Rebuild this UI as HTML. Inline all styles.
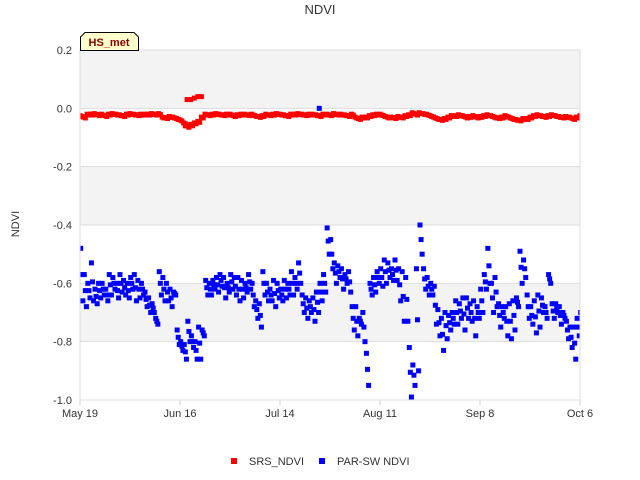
<!DOCTYPE html>
<html><head><meta charset="utf-8"><style>
body{margin:0;background:#fff;}
svg{display:block;font-family:"Liberation Sans","DejaVu Sans",sans-serif;}
</style></head><body>
<svg id="chart" width="640" height="480">
<defs><clipPath id="plotclip"><rect x="80" y="50" width="500" height="350"/></clipPath></defs>
<text x="320" y="14" text-anchor="middle" font-size="13" fill="#333">NDVI</text>
<text transform="translate(19,224) rotate(-90)" text-anchor="middle" font-size="11" fill="#333">NDVI</text>
<g id="bands"></g>
<g id="grid"></g>
<g id="yticks"></g>
<g id="xticks"></g>
<g id="srs" clip-path="url(#plotclip)"></g>
<g id="par" clip-path="url(#plotclip)"></g>
<rect x="80" y="50" width="500" height="350" fill="none" stroke="#ddd"/>
<g>
<path d="M80.5,50.5 L80.5,37 L85,32.5 L134,32.5 L138.5,37 L138.5,50.5 Z" fill="#ffffcc" stroke="#000" stroke-width="1"/>
<text x="109" y="46" text-anchor="middle" font-size="11" font-weight="bold" fill="#8b0000">HS_met</text>
</g>
<g>
<rect x="231" y="458" width="6" height="6" fill="#ff0000"/>
<text x="249" y="465" font-size="11" fill="#333">SRS_NDVI</text>
<rect x="319" y="458" width="6" height="6" fill="#0000ff"/>
<text x="337" y="465" font-size="11" fill="#333">PAR-SW NDVI</text>
</g>
</svg>
<script>
const yTicks=[0.2,0.0,-0.2,-0.4,-0.6,-0.8,-1.0];
const yTickLabels=["0.2","0.0","-0.2","-0.4","-0.6","-0.8","-1.0"];
const xTickDays=[0,28,56,84,112,140];
const xTickLabels=["May 19","Jun 16","Jul 14","Aug 11","Sep 8","Oct 6"];
const parHi=[-0.48,-0.57,-0.60,-0.53,-0.62,-0.60,
-0.60,-0.62,-0.57,-0.58,-0.60,-0.57,-0.59,-0.60,
-0.58,-0.57,-0.59,-0.60,-0.63,-0.65,-0.67,-0.72,
-0.56,-0.58,-0.60,-0.62,-0.63,
-0.76,-0.80,-0.81,-0.73,-0.78,-0.80,-0.75,-0.76,
-0.59,-0.60,-0.59,-0.58,-0.57,-0.58,-0.60,-0.57,-0.58,-0.58,-0.59,-0.60,-0.57,
-0.60,-0.66,-0.67,-0.56,-0.60,
-0.62,-0.59,-0.60,-0.62,-0.59,-0.60,-0.56,-0.58,-0.53,
-0.64,-0.65,-0.66,-0.65,-0.63,
-0.60,-0.57,-0.41,-0.45,
-0.53,-0.54,-0.55,-0.57,-0.56,
-0.68,-0.68,-0.72,-0.70,-0.84,
-0.60,-0.58,-0.56,-0.55,-0.52,-0.53,-0.55,
-0.52,-0.55,-0.56,-0.58,
-0.82,-0.88,-0.55,-0.40,
-0.55,-0.58,-0.60,-0.61,
-0.69,-0.72,-0.70,-0.71,-0.70,
-0.66,-0.67,-0.65,-0.65,-0.67,-0.66,-0.68,-0.62,
-0.57,-0.48,-0.60,-0.58,
-0.67,-0.68,-0.68,-0.67,-0.66,-0.65,
-0.49,-0.52,
-0.64,-0.68,-0.66,-0.64,-0.65,-0.68,-0.57,
-0.67,-0.67,-0.68,-0.70,
-0.73,-0.75,-0.75,-0.72,
-0.70];
const parLo=[-0.66,-0.68,-0.65,-0.66,-0.67,-0.65,
-0.64,-0.66,-0.64,-0.62,-0.65,-0.63,-0.64,-0.65,
-0.62,-0.66,-0.65,-0.64,-0.68,-0.70,-0.70,-0.74,
-0.64,-0.66,-0.66,-0.68,-0.64,
-0.81,-0.83,-0.86,-0.80,-0.82,-0.86,-0.86,-0.78,
-0.64,-0.64,-0.62,-0.63,-0.61,-0.65,-0.63,-0.62,-0.64,-0.66,-0.65,-0.63,-0.62,
-0.68,-0.72,-0.75,-0.64,-0.66,
-0.66,-0.68,-0.65,-0.66,-0.65,-0.64,-0.64,-0.62,-0.60,
-0.70,-0.72,-0.70,-0.73,-0.70,
-0.66,-0.63,-0.50,-0.55,
-0.60,-0.58,-0.62,-0.60,-0.63,
-0.76,-0.78,-0.74,-0.80,-0.95,
-0.64,-0.63,-0.60,-0.61,-0.60,-0.58,-0.59,
-0.59,-0.66,-0.73,-0.73,
-0.99,-0.95,-0.90,-0.50,
-0.62,-0.64,-0.64,-0.74,
-0.78,-0.83,-0.79,-0.76,-0.74,
-0.74,-0.72,-0.76,-0.72,-0.73,-0.78,-0.72,-0.70,
-0.62,-0.60,-0.70,-0.68,
-0.75,-0.72,-0.78,-0.79,-0.76,-0.68,
-0.60,-0.58,
-0.72,-0.74,-0.77,-0.75,-0.70,-0.72,-0.60,
-0.72,-0.70,-0.74,-0.72,
-0.79,-0.82,-0.86,-0.78,
-0.73];
const parExtraDays=[67];
const parExtraValues=[0.0];
const srs=[-0.025,-0.03,-0.02,-0.02,-0.018,-0.022,-0.02,-0.025,-0.02,-0.018,-0.02,-0.022,-0.025,-0.02,-0.018,-0.02,-0.022,-0.02,-0.02,-0.02,-0.018,-0.02,-0.018,
-0.03,-0.032,-0.028,-0.03,
-0.035,-0.04,-0.05,-0.06,-0.055,-0.05,-0.045,-0.03,
-0.02,-0.022,-0.02,-0.018,-0.02,-0.022,-0.02,-0.02,-0.025,-0.022,
-0.02,-0.02,-0.022,-0.02,-0.025,-0.028,-0.025,-0.02,-0.022,-0.02,
-0.018,-0.02,-0.022,-0.025,-0.02,-0.02,-0.018,-0.02,-0.022,-0.02,
-0.02,-0.022,-0.025,-0.02,-0.02,-0.022,-0.018,-0.02,-0.02,-0.022,
-0.025,-0.02,-0.03,-0.035,-0.03,-0.03,-0.025,-0.022,-0.02,-0.02,
-0.025,-0.03,-0.03,-0.032,-0.028,-0.03,-0.025,-0.022,-0.015,-0.02,
-0.015,-0.018,-0.02,-0.025,-0.03,-0.035,-0.038,-0.035,-0.03,-0.025,
-0.025,-0.022,-0.025,-0.03,-0.028,-0.025,-0.03,-0.028,-0.025,-0.022,
-0.025,-0.03,-0.032,-0.03,-0.025,-0.03,-0.035,-0.038,-0.04,-0.035,
-0.035,-0.03,-0.025,-0.022,-0.025,-0.028,-0.025,-0.022,-0.025,-0.028,
-0.03,-0.028,-0.03,-0.035,-0.03,-0.025];
const srsHighDays=[30,31,32,33,34];
const srsHighValues=[0.03,0.03,0.035,0.04,0.04];
const srsDipDays=[29.5,30.5,31.5,32.5];
const srsDipValues=[-0.06,-0.065,-0.06,-0.05];

const NS="http://www.w3.org/2000/svg";
const X0=80,X1=580,Y0=50,Y1=400,DMAX=140,VMAX=0.2,VMIN=-1.0;
function xs(d){return X0+(d/DMAX)*(X1-X0);}
function ys(v){return Y0+(VMAX-v)/(VMAX-VMIN)*(Y1-Y0);}
function mk(tag,attrs,parent){const e=document.createElementNS(NS,tag);for(const k in attrs)e.setAttribute(k,attrs[k]);parent.appendChild(e);return e;}
const bands=document.getElementById('bands');
for(let i=0;i<yTicks.length-1;i++){
  if(i%2===0){const r=mk('rect',{x:X0,y:ys(yTicks[i]),width:X1-X0,height:ys(yTicks[i+1])-ys(yTicks[i]),fill:'#f3f3f3'},bands);
  
  }
}
const grid=document.getElementById('grid'),yt=document.getElementById('yticks');
yTicks.forEach((v,i)=>{
  const l=mk('line',{x1:X0,x2:X1,y1:ys(v),y2:ys(v),stroke:'#ddd'},grid);
  
  
  const t=mk('text',{x:72,y:ys(v)+4,'text-anchor':'end','font-size':11,fill:'#333'},yt);
  t.textContent=yTickLabels[i];
  
  
});
const xt=document.getElementById('xticks');
xTickDays.forEach((d,i)=>{
  const l=mk('line',{x1:xs(d),x2:xs(d),y1:Y1,y2:Y1+5,stroke:'#ccc'},xt);
  
  
  const t=mk('text',{x:xs(d),y:417,'text-anchor':'middle','font-size':11,fill:'#333'},xt);
  t.textContent=xTickLabels[i];
  
  
});
const S=5;
function pt(g,d,v,c,name){const r=mk('rect',{x:xs(d)-S/2,y:ys(v)-S/2,width:S,height:S,fill:c},g);
  
  }
const gs=document.getElementById('srs'),gp=document.getElementById('par');
srs.forEach((v,d)=>{pt(gs,d,v,'#ff0000','srs-point');pt(gs,d+0.5,v-0.003,'#ff0000','srs-point');});
srsHighDays.forEach((d,i)=>pt(gs,d,srsHighValues[i],'#ff0000','srs-point'));
srsDipDays.forEach((d,i)=>pt(gs,d,srsDipValues[i],'#ff0000','srs-point'));
parHi.forEach((v,d)=>{
  const lo=parLo[d];
  pt(gp,d+0.2,v,'#0000ff','par-point');
  pt(gp,d+0.5,(v+lo)/2,'#0000ff','par-point');
  pt(gp,d+0.8,lo,'#0000ff','par-point');
});
parExtraDays.forEach((d,i)=>pt(gp,d,parExtraValues[i],'#0000ff','par-point'));
</script>
</body></html>
